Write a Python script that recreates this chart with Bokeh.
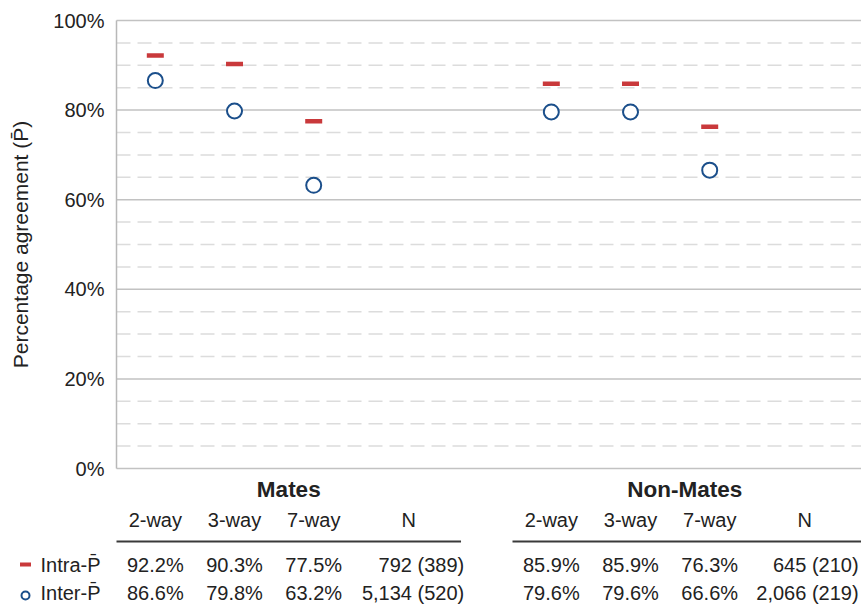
import math
from bokeh.plotting import figure
from bokeh.models import Range1d, ColumnDataSource
from bokeh.core.properties import value
from bokeh.embed import file_html
from bokeh.resources import INLINE

# ---------------- data ----------------
ways = ["2-way", "3-way", "7-way"]
groups = ["Mates", "Non-Mates"]
intra_mates = [92.2, 90.3, 77.5]
inter_mates = [86.6, 79.8, 63.2]
intra_non = [85.9, 85.9, 76.3]
inter_non = [79.6, 79.6, 66.6]
n_intra = ["792 (389)", "645 (210)"]
n_inter = ["5,134 (520)", "2,066 (219)"]
row_labels = ["Intra-P\u0304", "Inter-P\u0304"]
y_ticks = [0, 20, 40, 60, 80, 100]
y_minor = [5, 10, 15, 25, 30, 35, 45, 50, 55, 65, 70, 75, 85, 90, 95]
y_title = "Percentage agreement (P\u0304)"

# ---------------- layout constants ----------------
FONT = "Liberation Sans"
RED = "#c9393b"
BLUE = "#1b4f8b"
TXT = "#222222"
W, H = 861, 607
PX = 79.2            # px per column
PY = 4.48            # px per percent
FRAME_L = 116        # canvas px of the plot's left edge
ZERO_Y = 468         # canvas px of 0 %
X0 = -0.49           # column coordinate at the plot's left edge
GROUP_OFFSET = 5     # column offset of second group
N_OFFSET = 4.98      # offset of the second group's N column
N_COL = 3.2          # header position of the N column
N_RIGHT = 3.9        # right edge of N values
SPAN = (-0.49, 3.86) # extent of the header rule of a group


def cx(px):
    return X0 + (px - FRAME_L) / PX


def cy(py):
    return (ZERO_Y - py) / PY


p = figure(width=W, height=H, output_backend="svg", toolbar_location=None,
           x_range=Range1d(cx(0), cx(W)), y_range=Range1d(cy(H), cy(0)),
           x_axis_location=None, y_axis_location=None,
           min_border=0, min_border_left=0, min_border_right=0,
           min_border_top=0, min_border_bottom=0)
p.outline_line_color = None
p.grid.visible = False
p.background_fill_color = "white"
p.border_fill_color = "white"

x_right = cx(W + 20)

# ---------------- grid & axis ----------------
p.segment(x0=[X0] * len(y_minor), x1=[x_right] * len(y_minor), y0=y_minor,
          y1=y_minor, line_color="#dcdcdc", line_width=1.5, line_dash="14 7")
p.segment(x0=[X0] * len(y_ticks), x1=[x_right] * len(y_ticks), y0=y_ticks,
          y1=y_ticks, line_color="#c2c2c2", line_width=1.5)
p.segment(x0=[X0], x1=[X0], y0=[min(y_ticks)], y1=[max(y_ticks)],
          line_color="#b8b8b8", line_width=1.5)
p.text(x=[X0 - 12 / PX] * len(y_ticks), y=y_ticks,
       text=[f"{t}%" for t in y_ticks], text_font=value(FONT),
       text_font_size="20px", text_color=TXT, text_align="right",
       text_baseline="middle")
p.text(x=[cx(20)], y=[(min(y_ticks) + max(y_ticks)) / 2], text=[y_title],
       angle=math.pi / 2, text_font=value(FONT), text_font_size="21px",
       text_color=TXT, text_align="center", text_baseline="middle")

# ---------------- points ----------------
xs_m = list(range(len(ways)))
xs_n = [x + GROUP_OFFSET for x in xs_m]
src = ColumnDataSource(dict(x=xs_m + xs_n,
                            intra=intra_mates + intra_non,
                            inter=inter_mates + inter_non))
p.scatter("x", "intra", source=src, marker="dash", size=17, line_width=4.5,
          line_color=RED, fill_color=RED)
p.scatter("x", "inter", source=src, marker="circle", size=15, line_width=2,
          line_color=BLUE, fill_color="white")

# ---------------- table ----------------
Y_GROUP, Y_HEAD, Y_LINE, Y_R1, Y_R2 = cy(489), cy(519), cy(541), cy(564), cy(592)
REG = "20px"

p.text(x=[(SPAN[0] + SPAN[1]) / 2 + i * GROUP_OFFSET for i in range(len(groups))],
       y=[Y_GROUP] * len(groups), text=groups, text_font=value(FONT),
       text_font_size="22.5px", text_font_style="bold", text_color=TXT,
       text_align="center", text_baseline="middle")
p.text(x=xs_m + xs_n, y=[Y_HEAD] * 6, text=ways + ways, text_font=value(FONT),
       text_font_size=REG, text_color=TXT, text_align="center",
       text_baseline="middle")
p.text(x=[N_COL, N_COL + GROUP_OFFSET], y=[Y_HEAD] * 2, text=["N", "N"],
       text_font=value(FONT), text_font_size=REG, text_color=TXT,
       text_align="center", text_baseline="middle")
p.segment(x0=[SPAN[0], SPAN[0] + GROUP_OFFSET],
          x1=[SPAN[1], x_right], y0=[Y_LINE] * 2, y1=[Y_LINE] * 2,
          line_color="#3a3a3a", line_width=2)


def fmt(v):
    return f"{v:.1f}%"


p.text(x=xs_m + xs_n, y=[Y_R1] * 6,
       text=[fmt(v) for v in intra_mates + intra_non], text_font=value(FONT),
       text_font_size=REG, text_color=TXT, text_align="center",
       text_baseline="middle")
p.text(x=xs_m + xs_n, y=[Y_R2] * 6,
       text=[fmt(v) for v in inter_mates + inter_non], text_font=value(FONT),
       text_font_size=REG, text_color=TXT, text_align="center",
       text_baseline="middle")
p.text(x=[N_RIGHT, N_RIGHT + N_OFFSET], y=[Y_R1] * 2, text=n_intra,
       text_font=value(FONT), text_font_size=REG, text_color=TXT,
       text_align="right", text_baseline="middle")
p.text(x=[N_RIGHT, N_RIGHT + N_OFFSET], y=[Y_R2] * 2, text=n_inter,
       text_font=value(FONT), text_font_size=REG, text_color=TXT,
       text_align="right", text_baseline="middle")

# legend / row labels
p.scatter(x=[cx(25)], y=[Y_R1], marker="dash", size=11, line_width=4,
          line_color=RED)
p.scatter(x=[cx(25)], y=[Y_R2 - 3 / PY], marker="circle", size=8, line_width=2,
          line_color=BLUE, fill_color="white")
p.text(x=[cx(40)] * 2, y=[Y_R1, Y_R2], text=row_labels, text_font=value(FONT),
       text_font_size=REG, text_color=TXT, text_align="left",
       text_baseline="middle")

open("out.html", "w").write(file_html(p, INLINE))
